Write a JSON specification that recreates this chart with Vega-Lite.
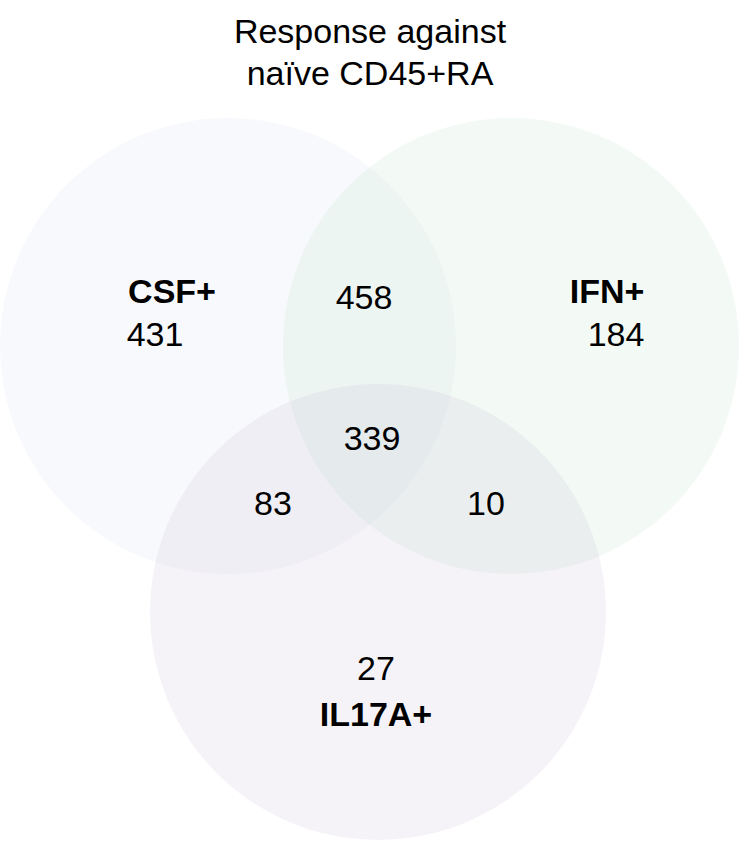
{
  "$schema": "https://vega.github.io/schema/vega-lite/v6.json",
  "width": 740,
  "height": 843,
  "autosize": {"type": "fit", "contains": "padding"},
  "padding": 0,
  "background": "white",
  "config": {"view": {"stroke": null}},
  "datasets": {
    "sets": [
      {"set": "CSF+", "x": 228, "y": 346},
      {"set": "IFN+", "x": 511, "y": 346},
      {"set": "IL17A+", "x": 378, "y": 612}
    ],
    "labels": [
      {"text": "Response against", "x": 370, "y": 33, "weight": "normal"},
      {"text": "naïve CD45+RA", "x": 370, "y": 75, "weight": "normal"},
      {"text": "CSF+", "x": 172, "y": 293, "weight": "bold"},
      {"text": "431", "x": 155, "y": 336, "weight": "normal"},
      {"text": "458", "x": 364, "y": 299, "weight": "normal"},
      {"text": "IFN+", "x": 607, "y": 293, "weight": "bold"},
      {"text": "184", "x": 616, "y": 336, "weight": "normal"},
      {"text": "339", "x": 372, "y": 440, "weight": "normal"},
      {"text": "83", "x": 273, "y": 505, "weight": "normal"},
      {"text": "10", "x": 486, "y": 505, "weight": "normal"},
      {"text": "27", "x": 376, "y": 670, "weight": "normal"},
      {"text": "IL17A+", "x": 376, "y": 716, "weight": "bold"}
    ]
  },
  "layer": [
    {
      "data": {"name": "sets"},
      "mark": {"type": "point", "shape": "circle", "filled": true, "size": 207936, "opacity": 0.15, "strokeWidth": 0, "clip": false},
      "encoding": {
        "x": {"field": "x", "type": "quantitative", "scale": {"domain": [0, 740], "nice": false, "zero": false}, "axis": null},
        "y": {"field": "y", "type": "quantitative", "scale": {"domain": [843, 0], "nice": false, "zero": false}, "axis": null},
        "color": {"field": "set", "type": "nominal", "scale": {"domain": ["CSF+", "IFN+", "IL17A+"], "range": ["#d0d7eb", "#afdebc", "#bcafca"]}, "legend": null}
      }
    },
    {
      "data": {"name": "labels"},
      "transform": [{"filter": "datum.weight == 'normal'"}],
      "mark": {"type": "text", "font": "Liberation Sans", "fontSize": 34, "color": "black", "clip": false},
      "encoding": {
        "x": {"field": "x", "type": "quantitative"},
        "y": {"field": "y", "type": "quantitative"},
        "text": {"field": "text"}
      }
    },
    {
      "data": {"name": "labels"},
      "transform": [{"filter": "datum.weight == 'bold'"}],
      "mark": {"type": "text", "font": "Liberation Sans", "fontSize": 34, "fontWeight": "bold", "color": "black", "clip": false},
      "encoding": {
        "x": {"field": "x", "type": "quantitative"},
        "y": {"field": "y", "type": "quantitative"},
        "text": {"field": "text"}
      }
    }
  ]
}
